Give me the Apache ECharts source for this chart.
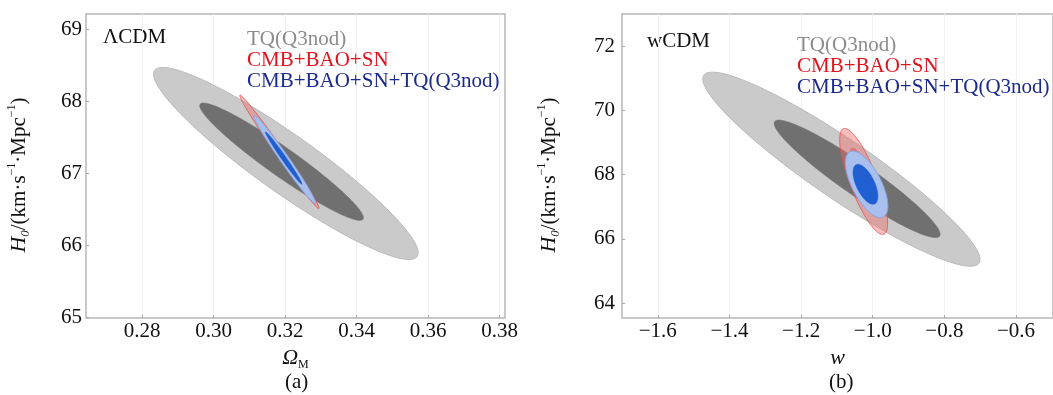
<!DOCTYPE html>
<html>
<head>
<meta charset="utf-8">
<script src="https://cdn.jsdelivr.net/npm/echarts@6/dist/echarts.min.js"></script>
<style>
html,body{margin:0;padding:0;background:#fff;}
#c{width:1053px;height:395px;}
</style>
</head>
<body>
<div id="c"></div>
<script>
// Ellipse contours: [centerX, centerY, halfExtentX, halfExtentY, correlation]
// Panel (a) ΛCDM : x = Ω_M, y = H0
const lcdmTQ2   = [0.3202, 67.135, 0.0370, 1.333, -0.93];
const lcdmTQ1   = [0.3190, 67.160, 0.0229, 0.815, -0.955];
const lcdmCBS2  = [0.3184, 67.297, 0.01108, 0.787, -0.992];
const lcdmCBS1  = [0.3188, 67.25, 0.0068, 0.48, -0.992];
const lcdmAll2  = [0.3199, 67.19, 0.00864, 0.611, -0.985];
const lcdmAll1  = [0.3196, 67.21, 0.00513, 0.364, -0.988];
// Panel (b) wCDM : x = w, y = H0
const wcdmTQ2   = [-1.0875, 68.17, 0.387, 3.02, -0.93];
const wcdmTQ1   = [-1.0435, 67.87, 0.2318, 1.829, -0.944];
const wcdmCBS2  = [-1.0253, 67.79, 0.0669, 1.649, -0.79];
const wcdmCBS1  = [-1.0226, 67.79, 0.0420, 1.03, -0.79];
const wcdmAll2  = [-1.0170, 67.70, 0.0593, 1.036, -0.65];
const wcdmAll1  = [-1.0203, 67.70, 0.0348, 0.622, -0.60];

// Tick labels
const ticksXa = [0.28, 0.30, 0.32, 0.34, 0.36, 0.38];
const ticksYa = [65, 66, 67, 68, 69];
const ticksXb = [-1.6, -1.4, -1.2, -1.0, -0.8, -0.6];
const ticksYb = [64, 66, 68, 70, 72];

const seriesNames = ['TQ(Q3nod)', 'CMB+BAO+SN', 'CMB+BAO+SN+TQ(Q3nod)'];
const legendColors = ['#8c8c8c', '#e0141e', '#1c2a8c'];

const FONT = '"Liberation Serif", "Times New Roman", serif';

const styles = {
  tq2:  {fill: '#cacaca', stroke: '#bababa', lineWidth: 1},
  tq1:  {fill: '#707070', stroke: '#707070', lineWidth: 0.5},
  cbs2: {fill: 'rgba(240,110,110,0.45)', stroke: 'rgba(225,80,80,0.8)', lineWidth: 1},
  cbs1: {fill: 'rgba(230,70,70,0.45)', stroke: 'rgba(225,70,70,0.6)', lineWidth: 0.5},
  all2: {fill: '#a9c0ee', stroke: '#86a4e2', lineWidth: 1},
  all1: {fill: '#1f5fd2', stroke: '#1f5fd2', lineWidth: 0.5}
};

function renderEllipse(st) {
  return function (params, api) {
    const cx = api.value(0), cy = api.value(1), sx = api.value(2), sy = api.value(3), r = api.value(4);
    const q = Math.sqrt(1 - r * r);
    const pts = [];
    const N = 160;
    for (let i = 0; i < N; i++) {
      const t = 2 * Math.PI * i / N;
      const c = Math.cos(t), s = Math.sin(t);
      pts.push(api.coord([cx + sx * c, cy + sy * (r * c + q * s)]));
    }
    return {
      type: 'polygon',
      shape: {points: pts},
      style: {fill: st.fill, stroke: st.stroke, lineWidth: st.lineWidth}
    };
  };
}

function ell(name, data, st, gi) {
  return {
    type: 'custom', name: name, xAxisIndex: gi, yAxisIndex: gi,
    dimensions: ['x', 'y', 'sx', 'sy', 'rho'],
    encode: {x: 0, y: 1},
    data: [data],
    renderItem: renderEllipse(st),
    itemStyle: {color: st.fill},
    silent: true,
    z: 2
  };
}

function xAxis(gi, min, max, ticks, fmt, name) {
  return {
    type: 'value', gridIndex: gi, min: min, max: max,
    axisLine: {show: false},
    axisTick: {show: true, inside: true, length: 3, customValues: ticks, lineStyle: {color: '#a8a8a8'}},
    axisLabel: {customValues: ticks, formatter: fmt, color: '#111', fontFamily: FONT, fontSize: 21, margin: 3},
    splitLine: {show: true, lineStyle: {color: '#f1f1f1', width: 1}},
    name: name.text, nameLocation: 'middle', nameGap: name.gap,
    nameTextStyle: {rich: name.rich, fontFamily: FONT}
  };
}
function yAxis(gi, min, max, ticks, margin, gap) {
  return {
    type: 'value', gridIndex: gi, min: min, max: max,
    axisLine: {show: false},
    axisTick: {show: true, inside: true, length: 3, customValues: ticks, lineStyle: {color: '#a8a8a8'}},
    axisLabel: {customValues: ticks, formatter: v => String(Math.round(v)), color: '#111', fontFamily: FONT, fontSize: 21, margin: margin},
    splitLine: {show: false},
    name: '{h|H}{sub|0}{n|/(km·s}{sup|−1}{n|·Mpc}{sup|−1}{n|)}',
    nameLocation: 'middle', nameRotate: 90, nameGap: gap,
    nameTextStyle: {
      fontFamily: FONT, padding: [0, 18, 0, 0],
      rich: {
        h: {fontFamily: FONT, fontStyle: 'italic', fontSize: 22, color: '#111', lineHeight: 26},
        sub: {fontFamily: FONT, fontStyle: 'italic', fontSize: 13, color: '#111', lineHeight: 16, verticalAlign: 'bottom'},
        n: {fontFamily: FONT, fontSize: 21, color: '#111', lineHeight: 26},
        sup: {fontFamily: FONT, fontSize: 12, color: '#111', lineHeight: 17, verticalAlign: 'top'}
      }
    }
  };
}

const fmtA = v => v.toFixed(2);
const fmtB = v => v.toFixed(1).replace('-', '−');

function legend(left, top) {
  return {
    left: left, top: top, orient: 'vertical', icon: 'none',
    itemWidth: 0, itemHeight: 21, itemGap: 0, selectedMode: false,
    data: seriesNames.map((n, i) => ({name: n, textStyle: {color: legendColors[i]}})),
    textStyle: {fontFamily: FONT, fontSize: 21, lineHeight: 21}
  };
}

const option = {
  animation: false,
  backgroundColor: '#ffffff',
  grid: [
    {left: 86, top: 14, width: 419, height: 304, show: true, borderColor: '#b8b8b8', borderWidth: 1.5, backgroundColor: 'transparent'},
    {left: 622, top: 14, width: 432, height: 304, show: true, borderColor: '#b8b8b8', borderWidth: 1.5, backgroundColor: 'transparent'}
  ],
  xAxis: [
    xAxis(0, 0.2643, 0.3815, ticksXa, fmtA, {
      text: '{o|Ω}{m|M}', gap: 25,
      rich: {
        o: {fontFamily: FONT, fontStyle: 'italic', fontSize: 22, color: '#111', lineHeight: 26},
        m: {fontFamily: FONT, fontSize: 12, color: '#111', lineHeight: 14, verticalAlign: 'bottom'}
      }
    }),
    xAxis(1, -1.70, -0.4967, ticksXb, fmtB, {
      text: '{o|w}', gap: 25,
      rich: {o: {fontFamily: FONT, fontStyle: 'italic', fontSize: 22, color: '#111', lineHeight: 26}}
    })
  ],
  yAxis: [
    yAxis(0, 64.99, 69.21, ticksYa, 4, 54),
    yAxis(1, 63.54, 73.0, ticksYb, 7, 60)
  ],
  legend: [legend(237, 24), legend(787, 30)],
  graphic: [
    {type: 'text', left: 103, top: 27, style: {text: 'ΛCDM', font: '21px ' + FONT, fill: '#111'}},
    {type: 'text', left: 647, top: 31, style: {text: 'wCDM', font: '21px ' + FONT, fill: '#111'}},
    {type: 'text', left: 285, top: 372, style: {text: '(a)', font: '21px ' + FONT, fill: '#111'}},
    {type: 'text', left: 829, top: 372, style: {text: '(b)', font: '21px ' + FONT, fill: '#111'}}
  ],
  series: [
    ell(seriesNames[0], lcdmTQ2, styles.tq2, 0),
    ell(seriesNames[0], lcdmTQ1, styles.tq1, 0),
    ell(seriesNames[1], lcdmCBS2, styles.cbs2, 0),
    ell(seriesNames[1], lcdmCBS1, styles.cbs1, 0),
    ell(seriesNames[2], lcdmAll2, styles.all2, 0),
    ell(seriesNames[2], lcdmAll1, styles.all1, 0),
    ell(seriesNames[0], wcdmTQ2, styles.tq2, 1),
    ell(seriesNames[0], wcdmTQ1, styles.tq1, 1),
    ell(seriesNames[1], wcdmCBS2, styles.cbs2, 1),
    ell(seriesNames[1], wcdmCBS1, styles.cbs1, 1),
    ell(seriesNames[2], wcdmAll2, styles.all2, 1),
    ell(seriesNames[2], wcdmAll1, styles.all1, 1)
  ]
};

const chart = echarts.init(document.getElementById('c'), null, {renderer: 'canvas'});
chart.setOption(option);
</script>
</body>
</html>
